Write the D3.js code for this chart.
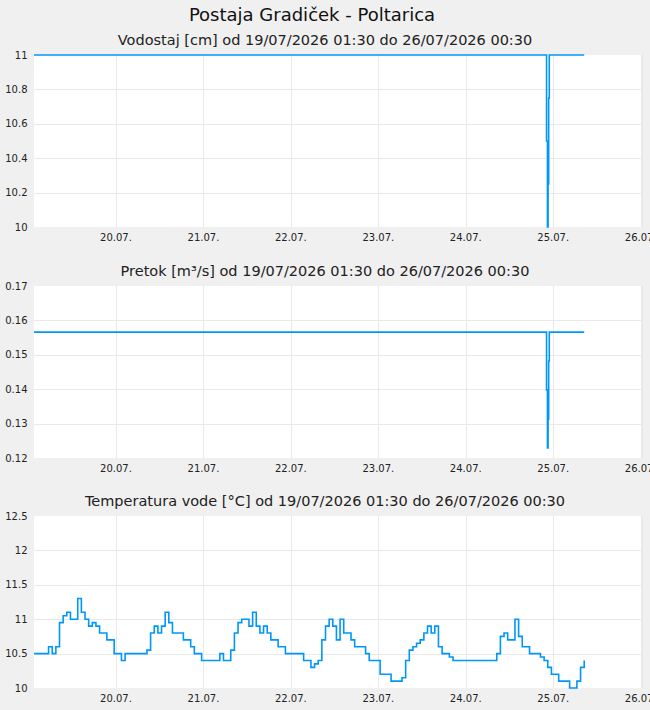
<!DOCTYPE html>
<html>
<head>
<meta charset="utf-8">
<script src="https://cdn.jsdelivr.net/npm/d3@7"></script>
<style>
  body { margin: 0; background: #f0f0f0; font-family: "DejaVu Sans", sans-serif; }
</style>
</head>
<body>
<div id="chart"></div>
<script>
// station + period
var stationTitle = "Postaja Gradiček - Poltarica";
var periodText = "od 19/07/2026 01:30 do 26/07/2026 00:30";
var chartTitles = ["Vodostaj [cm]", "Pretok [m³/s]", "Temperatura vode [°C]"];

// x axis days
var dayTicks = ["2026-07-20", "2026-07-21", "2026-07-22", "2026-07-23", "2026-07-24", "2026-07-25", "2026-07-26"];
var dayLabels = ["20.07.", "21.07.", "22.07.", "23.07.", "24.07.", "25.07.", "26.07."];

// y ticks for each chart
var levelTicks = [10, 10.2, 10.4, 10.6, 10.8, 11];
var flowTicks = [0.12, 0.13, 0.14, 0.15, 0.16, 0.17];
var tempTicks = [10, 10.5, 11, 11.5, 12, 12.5];

// water level + discharge (step series)
var levelTimes = ["2026-07-19T01:30", "2026-07-24T22:10", "2026-07-24T22:25", "2026-07-24T22:35",
                  "2026-07-24T22:45", "2026-07-24T22:55", "2026-07-25T08:30"];
var levelValues = [11, 10.5, 10.0, 10.25, 10.75, 11, 11];
var flowValues = [0.1566, 0.1398, 0.1229, 0.1313, 0.1482, 0.1566, 0.1566];

// water temperature, hourly from 19/07 01:30
var tempStart = "2026-07-19T01:30";
var tempValues = [
  10.5, 10.5, 10.5, 10.5, 10.6, 10.5, 10.6, 10.95, 11.05, 11.1,
  11.0, 11.0, 11.3, 11.1, 11.0, 10.9, 10.95, 10.9, 10.8, 10.8,
  10.7, 10.7, 10.5, 10.5, 10.4, 10.5, 10.5, 10.5, 10.5, 10.5,
  10.5, 10.55, 10.8, 10.9, 10.8, 10.9, 11.1, 10.95, 10.8, 10.8,
  10.8, 10.7, 10.7, 10.6, 10.5, 10.5, 10.4, 10.4, 10.4, 10.4,
  10.4, 10.5, 10.4, 10.4, 10.55, 10.8, 10.95, 11.0, 11.0, 10.9,
  11.1, 10.9, 10.8, 10.9, 10.8, 10.7, 10.7, 10.6, 10.6, 10.5,
  10.5, 10.5, 10.5, 10.5, 10.4, 10.4, 10.3, 10.35, 10.4, 10.7,
  10.9, 11.0, 10.9, 10.7, 11.0, 10.8, 10.8, 10.7, 10.6, 10.6,
  10.6, 10.5, 10.4, 10.4, 10.4, 10.2, 10.2, 10.2, 10.1, 10.1,
  10.1, 10.15, 10.4, 10.55, 10.6, 10.65, 10.7, 10.8, 10.9, 10.8,
  10.9, 10.6, 10.5, 10.5, 10.45, 10.4, 10.4, 10.4, 10.4, 10.4,
  10.4, 10.4, 10.4, 10.4, 10.4, 10.4, 10.4, 10.5, 10.75, 10.8,
  10.7, 10.7, 11.0, 10.75, 10.6, 10.6, 10.5, 10.5, 10.5, 10.45,
  10.4, 10.3, 10.2, 10.2, 10.1, 10.1, 10.1, 10.0, 10.0, 10.1,
  10.3, 10.4
];

var svgWidth = 650;
var svgHeight = 710;
var lineColor = "#0096fa";
var gridColor = "#e9e9e9";

var svg = d3.select("#chart").append("svg")
  .attr("width", svgWidth)
  .attr("height", svgHeight);

var parseTime = d3.timeParse("%Y-%m-%dT%H:%M");
var parseDay = d3.timeParse("%Y-%m-%d");

var x = d3.scaleTime()
  .domain([parseTime("2026-07-19T01:30"), parseTime("2026-07-26T00:30")])
  .range([34, 642.5]);

// main title
svg.append("text")
  .attr("x", 312)
  .attr("y", 21)
  .attr("text-anchor", "middle")
  .style("font-size", "18px")
  .style("fill", "#111")
  .text(stationTitle);

var levelData = levelTimes.map((t, i) => ({ t: parseTime(t), v: levelValues[i] }));
var flowData = levelTimes.map((t, i) => ({ t: parseTime(t), v: flowValues[i] }));
var t0 = parseTime(tempStart);
var tempData = tempValues.map((v, i) => ({ t: d3.timeHour.offset(t0, i), v: v }));

var charts = [
  { title: chartTitles[0], data: levelData, ticks: levelTicks, top: 55, fmt: d3.format("") },
  { title: chartTitles[1], data: flowData, ticks: flowTicks, top: 286, fmt: d3.format(".2f") },
  { title: chartTitles[2], data: tempData, ticks: tempTicks, top: 516, fmt: d3.format("") }
];

var plotH = 172;

charts.forEach(function(c) {
  var g = svg.append("g");
  var y = d3.scaleLinear()
    .domain([c.ticks[0], c.ticks[c.ticks.length - 1]])
    .range([c.top + plotH, c.top]);

  // subtitle
  g.append("text")
    .attr("x", 325)
    .attr("y", c.top - 10)
    .attr("text-anchor", "middle")
    .style("font-size", "14.5px")
    .style("fill", "#222")
    .text(c.title + " " + periodText);

  // plot background
  g.append("rect")
    .attr("x", x.range()[0])
    .attr("y", c.top)
    .attr("width", x.range()[1] - x.range()[0])
    .attr("height", plotH)
    .attr("fill", "#fff");

  // horizontal grid
  g.selectAll(".hgrid")
    .data(c.ticks.slice(1, -1))
    .enter()
    .append("line")
    .attr("x1", x.range()[0])
    .attr("x2", x.range()[1])
    .attr("y1", d => Math.round(y(d)) + 0.5)
    .attr("y2", d => Math.round(y(d)) + 0.5)
    .attr("stroke", gridColor);

  // vertical grid + right border
  var days = dayTicks.map(parseDay);
  g.selectAll(".vgrid")
    .data(days)
    .enter()
    .append("line")
    .attr("x1", d => Math.round(x(d)) + 0.5)
    .attr("x2", d => Math.round(x(d)) + 0.5)
    .attr("y1", c.top)
    .attr("y2", c.top + plotH)
    .attr("stroke", gridColor);

  g.append("line")
    .attr("x1", x.range()[1])
    .attr("x2", x.range()[1])
    .attr("y1", c.top)
    .attr("y2", c.top + plotH)
    .attr("stroke", gridColor);

  // y tick labels
  g.selectAll(".ylab")
    .data(c.ticks)
    .enter()
    .append("text")
    .attr("x", 27.5)
    .attr("y", d => y(d) + 3.5)
    .attr("text-anchor", "end")
    .style("font-size", "10px")
    .style("fill", "#222")
    .text(d => c.ticks === flowTicks ? c.fmt(d) : d3.format("~g")(d));

  // x tick labels
  g.selectAll(".xlab")
    .data(days)
    .enter()
    .append("text")
    .attr("x", d => x(d))
    .attr("y", c.top + plotH + 14)
    .attr("text-anchor", "middle")
    .style("font-size", "10px")
    .style("fill", "#222")
    .text((d, i) => dayLabels[i]);

  // series line
  var line = d3.line()
    .x(d => x(d.t))
    .y(d => y(d.v))
    .curve(d3.curveStepAfter);

  g.append("path")
    .datum(c.data)
    .attr("d", line)
    .attr("fill", "none")
    .attr("stroke", lineColor)
    .attr("stroke-width", 1.6);
});
</script>
</body>
</html>
